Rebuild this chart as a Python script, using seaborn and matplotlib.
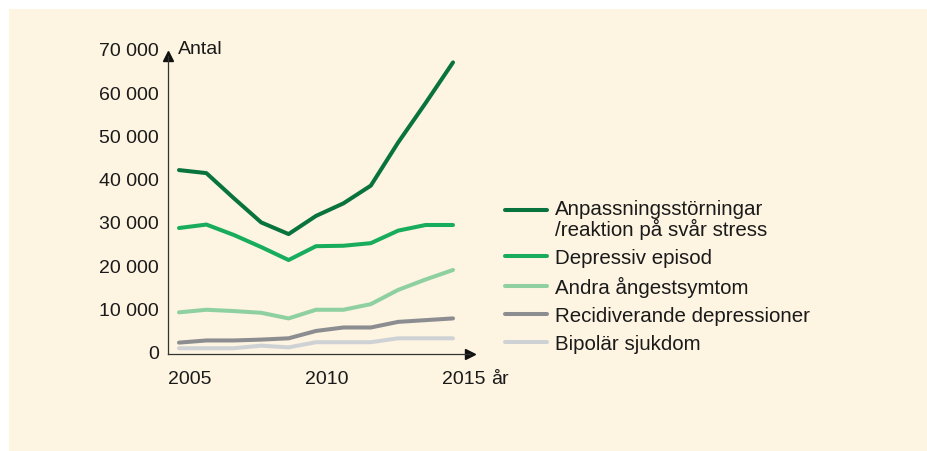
import pandas as pd
import seaborn as sns
import matplotlib.pyplot as plt
from matplotlib.patches import Rectangle
from matplotlib.transforms import ScaledTranslation

# data
years = [2005, 2006, 2007, 2008, 2009, 2010, 2011, 2012, 2013, 2014, 2015]
anpassning = [42000, 41300, 35500, 29900, 27200, 31400, 34300, 38400, 48400, 57500, 66900]
depressiv = [28600, 29400, 27000, 24200, 21200, 24400, 24500, 25100, 28000, 29300, 29300]
angest = [9100, 9700, 9400, 9000, 7700, 9700, 9700, 11000, 14300, 16700, 18900]
recidiv = [2100, 2600, 2600, 2800, 3100, 4800, 5600, 5600, 6900, 7300, 7700]
bipolar = [800, 800, 800, 1400, 1000, 2200, 2200, 2200, 3100, 3100, 3100]

labels = ["Anpassningsstörningar\n/reaktion på svår stress", "Depressiv episod",
          "Andra ångestsymtom", "Recidiverande depressioner", "Bipolär sjukdom"]
colors = ["#08733d", "#17ad5c", "#8fd0a0", "#8b8d90", "#cfd2d4"]

yticks = [0, 10000, 20000, 30000, 40000, 50000, 60000, 70000]
ytick_labels = ["0", "10 000", "20 000", "30 000", "40 000", "50 000", "60 000", "70 000"]
xticks = [2005, 2010, 2015]
xtick_labels = ["2005", "2010", "2015"]

sns.set_style("white")
plt.rcParams["font.family"] = ["Liberation Sans", "DejaVu Sans"]

bg = "#fdf4e2"
txt = "#1a1a1a"
fig = plt.figure(figsize=(9.27, 4.52), dpi=100)
fig.patches.append(Rectangle((9 / 927, 0), 1, 1 - 10 / 452, transform=fig.transFigure,
                             facecolor=bg, edgecolor="none", zorder=-1))
ax = fig.add_axes([0.1809, 0.2146, 0.3261, 0.6748])
ax.set_facecolor("none")

series = [anpassning, depressiv, angest, recidiv, bipolar]
for vals, lab, col in zip(series[::-1], labels[::-1], colors[::-1]):
    sns.lineplot(x=years, y=vals, color=col, linewidth=2.9, label=lab, ax=ax)

ax.set_xlim(2004.588, 2015.62)
ax.set_ylim(-530, 70000)
ax.set_yticks(yticks)
ax.set_yticklabels(ytick_labels)
ax.set_xticks(xticks)
ax.set_xticklabels(xtick_labels)
ax.tick_params(axis="y", length=0, pad=6.3, labelsize=14, labelcolor=txt)
ax.tick_params(axis="x", length=0, pad=11.5, labelsize=14, labelcolor=txt)
shift = ScaledTranslation(0.11, 0, fig.dpi_scale_trans)
for t in ax.get_xticklabels():
    t.set_transform(t.get_transform() + shift)

for s in ["top", "right"]:
    ax.spines[s].set_visible(False)
for s in ["left", "bottom"]:
    ax.spines[s].set_color("#333333")
    ax.spines[s].set_linewidth(0.9)
ax.spines["left"].set_bounds(-530, 68300)

# axis arrows
ax.plot(0, 0.977, marker="^", color="#111111", markersize=7, transform=ax.transAxes, clip_on=False)
ax.plot(1.0, 0, marker=">", color="#111111", markersize=7, transform=ax.transAxes, clip_on=False)

ax.text(0.035, 1.0, "Antal", transform=ax.transAxes, ha="left", va="center",
        fontsize=14, color=txt)
# unit after the last year label, on the same baseline
ax.annotate("år", xy=(1, 0), xycoords=ax.get_xticklabels()[-1], xytext=(3.6, 0),
            textcoords="offset points", ha="left", va="bottom", fontsize=14, color=txt)

h, l = ax.get_legend_handles_labels()
leg = ax.legend(h[::-1], l[::-1], loc="upper left", bbox_to_anchor=(505 / 927, 1 - 200 / 452),
                bbox_transform=fig.transFigure, frameon=False, fontsize=14.8,
                handlelength=2.04, handletextpad=0.39, labelspacing=0.44,
                borderpad=0, borderaxespad=0)
for t in leg.get_texts():
    t.set_color(txt)
leg.get_texts()[0].set_linespacing(0.98)
# keep the first handle next to the first text line
first = leg.legend_handles[0]
first.set_ydata([y + 6.3 for y in first.get_ydata()])

fig.savefig("out.png", dpi=100)
